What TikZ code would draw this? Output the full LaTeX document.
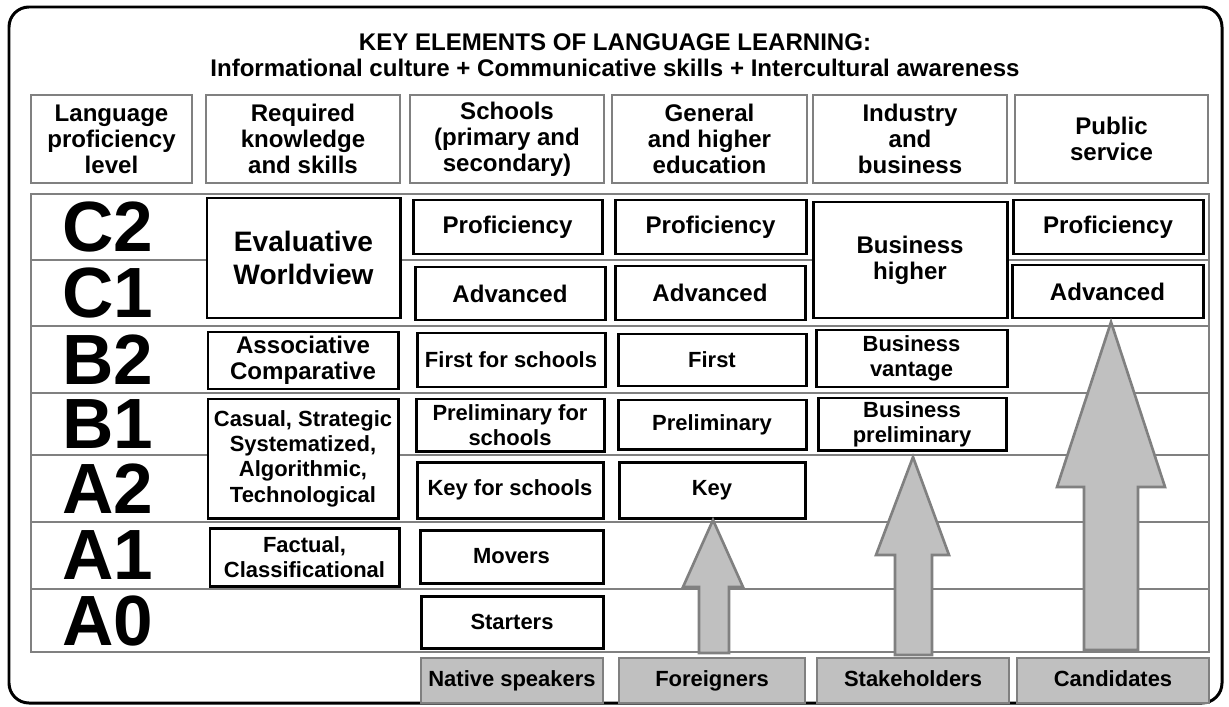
\documentclass[tikz,border=0pt]{standalone}
\usepackage{fontspec}
\setmainfont{Liberation Sans}
\definecolor{gridgray}{HTML}{808080}
\definecolor{arrowgray}{HTML}{C0C0C0}
\def\u{0.02cm}
\tikzset{
  lbl/.style={font=\bfseries\fontsize{13.7}{14.8}\selectfont, align=center, inner sep=0pt},
  small/.style={font=\bfseries\fontsize{12.5}{14.4}\selectfont},
  hdr/.style={lbl, draw=gridgray, line width=1.6pt, fill=white},
  blk/.style={lbl, draw=black, line width=1.7pt, fill=white},
  who/.style={hdr, small, fill=arrowgray, text height=9pt, text depth=2.6pt},
  lvl/.style={font=\bfseries\fontsize{40.5}{40}\selectfont, inner sep=0pt},
  uparrow/.style={draw=gridgray, line width=1.5pt, fill=arrowgray},
}
\begin{document}
\begin{tikzpicture}[x=0.02cm,y=-0.02cm]
\useasboundingbox (0,0) rectangle (1229,706);
\draw[line width=1.7pt, rounded corners=0.4cm] (9,7) rectangle (1222,703);
\node[lbl] (title) at (615,55) {KEY ELEMENTS OF LANGUAGE LEARNING:\\Informational culture + Communicative skills + Intercultural awareness};
% column heads
\node[hdr, minimum width=161*\u, minimum height=88*\u] (hlev) at (111.5,139) {Language\\proficiency\\level};
\node[hdr, minimum width=194*\u, minimum height=88*\u] (hknow) at (303,139) {Required\\knowledge\\and skills};
\node[hdr, minimum width=194*\u, minimum height=88*\u] (hsch) at (507,139) {Schools\\(primary and\\secondary)};
\node[hdr, minimum width=195*\u, minimum height=88*\u] (hgen) at (709.5,139) {General\\and higher\\education};
\node[hdr, minimum width=194*\u, minimum height=88*\u] (hind) at (910,139) {Industry\\and\\business};
\node[hdr, minimum width=193*\u, minimum height=88*\u] (hpub) at (1111.5,139) {Public\\service};
% level rows
\draw[gridgray, line width=1.6pt] (31,194) rectangle (1209,652);
\foreach \y in {260,326,393,455,522,589}
  \draw[gridgray, line width=1.6pt] (31,\y) -- (1209,\y);
\node[lvl] (c2) at (108,227) {C2};
\node[lvl] (c1) at (108,293) {C1};
\node[lvl] (b2) at (108,359.5) {B2};
\node[lvl] (b1) at (108,424) {B1};
\node[lvl] (a2) at (108,488.5) {A2};
\node[lvl] (a1) at (108,555.5) {A1};
\node[lvl] (a0) at (108,620.5) {A0};
% knowledge and skills
\node[blk, font=\bfseries\fontsize{16}{19}\selectfont, minimum width=193*\u, minimum height=120*\u] (eval) at (303.5,258) {Evaluative\\Worldview};
\node[blk, minimum width=190*\u, minimum height=57*\u] (assoc) at (303,360.5) {Associative\\Comparative};
\node[blk, small, minimum width=190*\u, minimum height=119*\u] (casual) at (303,458.5) {Casual, Strategic\\Systematized,\\Algorithmic,\\Technological};
\node[blk, small, minimum width=189*\u, minimum height=58*\u] (fact) at (304.5,557) {Factual,\\Classificational};
% schools
\node[blk, minimum width=189*\u, minimum height=54*\u] (sprof) at (507.5,227) {Proficiency};
\node[blk, minimum width=190*\u, minimum height=53*\u] (sadv) at (510,293.5) {Advanced};
\node[blk, small, minimum width=188*\u, minimum height=54*\u] (sfirst) at (511,360) {First for schools};
\node[blk, small, minimum width=188*\u, minimum height=52*\u] (sprel) at (510,425) {Preliminary for\\schools};
\node[blk, small, minimum width=186*\u, minimum height=56*\u] (skey) at (510,490) {Key for schools};
\node[blk, small, minimum width=183*\u, minimum height=53*\u] (smov) at (511.5,556.5) {Movers};
\node[blk, small, minimum width=182*\u, minimum height=52*\u] (sstart) at (512,622) {Starters};
% general and higher education
\node[blk, minimum width=191*\u, minimum height=54*\u] (gprof) at (710.5,227) {Proficiency};
\node[blk, minimum width=190*\u, minimum height=54*\u] (gadv) at (710,293) {Advanced};
\node[blk, small, minimum width=188*\u, minimum height=52*\u] (gfirst) at (712,360) {First};
\node[blk, small, minimum width=188*\u, minimum height=49*\u] (gprel) at (712,424.5) {Preliminary};
\node[blk, small, minimum width=186*\u, minimum height=56*\u] (gkey) at (712,490) {Key};
% industry and business
\node[blk, minimum width=194*\u, minimum height=116*\u] (bhigh) at (910,260) {Business\\higher};
\node[blk, small, minimum width=191*\u, minimum height=57*\u] (bvant) at (911.5,358.5) {Business\\vantage};
\node[blk, small, minimum width=188*\u, minimum height=52*\u] (bprel) at (912,424) {Business\\preliminary};
% public service
\node[blk, minimum width=190*\u, minimum height=54*\u] (pprof) at (1108,227) {Proficiency};
\node[blk, minimum width=191*\u, minimum height=53*\u] (padv) at (1107.5,291.5) {Advanced};
% arrows
\draw[uparrow] (699,653) -- (699,587) -- (683,587) -- (713,520) -- (743,587) -- (729,587) -- (729,653) -- cycle;
\draw[uparrow] (895,655) -- (895,555) -- (876,555) -- (913,457) -- (949,555) -- (932,555) -- (932,655) -- cycle;
\draw[uparrow] (1084,650) -- (1084,487) -- (1057,487) -- (1111,322) -- (1165,487) -- (1138,487) -- (1138,650) -- cycle;
% learners
\node[who, minimum width=182*\u, minimum height=45*\u] (native) at (512,680.5) {Native speakers};
\node[who, minimum width=186*\u, minimum height=45*\u] (fore) at (712,680.5) {Foreigners};
\node[who, minimum width=192*\u, minimum height=45*\u] (stake) at (913,680.5) {Stakeholders};
\node[who, minimum width=192*\u, minimum height=45*\u] (cand) at (1113,680.5) {Candidates};
\end{tikzpicture}
\end{document}
